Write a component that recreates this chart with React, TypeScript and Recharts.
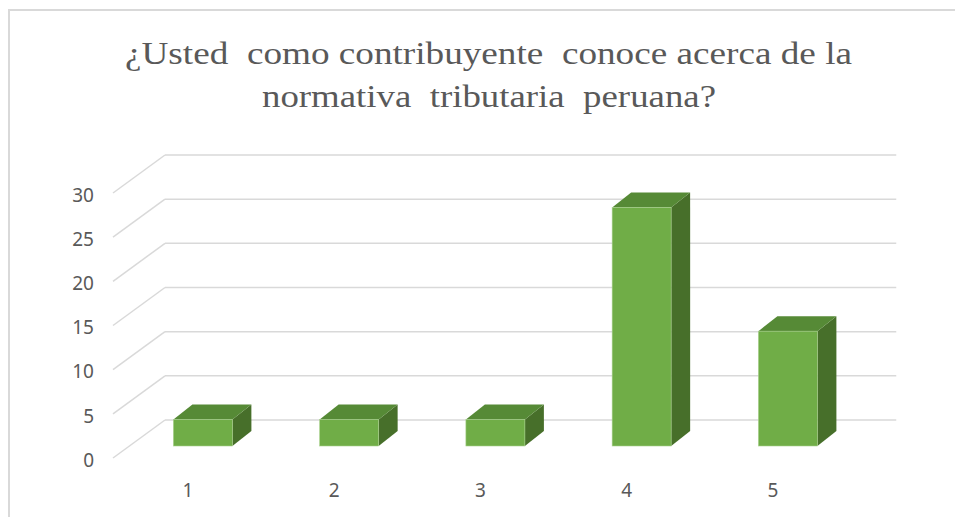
import React from 'react';
import { BarChart, Bar, XAxis, YAxis, CartesianGrid } from 'recharts';

const categories = ['1', '2', '3', '4', '5'];
const values = [3, 3, 3, 27, 13];
const yTicks = [0, 5, 10, 15, 20, 25, 30];
const titleLines = ['¿Usted  como contribuyente  conoce acerca de la', 'normativa  tributaria  peruana?'];

const data = categories.map((c, i) => ({ name: c, value: values[i] }));

const W = 955;
const H = 517;
const PLOT_LEFT = 129.4;
const PLOT_RIGHT = 94.35;
const PLOT_TOP = 181;
const PLOT_BOTTOM = 71;
const Y_AXIS_W = 30;
const X_AXIS_H = 30;
const DEPTH_X = 35.6; // back wall offset
const DEPTH_Y = 26;
const FRONT_X = 113; // front edge of floor/diagonals
const FRONT_DY = 12;
const BAR_DX = 19;
const BAR_DY = 15;

const GRID = '#d9d9d9';
const TEXT = '#595959';
const FRONT = '#70AD47';
const TOP = '#568A36';
const SIDE = '#476F2A';

const Box3D = (props: any) => {
  const { x, y, width, height } = props;
  if (width == null || height == null) return null;
  const x2 = x + width;
  const y2 = y + height;
  const top = `${x},${y} ${x + BAR_DX},${y - BAR_DY} ${x2 + BAR_DX},${y - BAR_DY} ${x2},${y}`;
  const side = `${x2},${y} ${x2 + BAR_DX},${y - BAR_DY} ${x2 + BAR_DX},${y2 - BAR_DY} ${x2},${y2}`;
  return (
    <g>
      <polygon points={side} fill={SIDE} />
      <polygon points={top} fill={TOP} />
      <rect x={x} y={y} width={width} height={height} fill={FRONT} stroke="#A9D18E" strokeWidth={0.6} />
    </g>
  );
};

const YTick = (props: any) => {
  const { y, payload } = props;
  const backX = PLOT_LEFT + DEPTH_X;
  return (
    <g>
      <line x1={FRONT_X} y1={y + FRONT_DY} x2={backX} y2={y - DEPTH_Y} stroke={GRID} strokeWidth={1.5} />
      <text x={94} y={y + 20.7} textAnchor="end" fill={TEXT} fontSize={19} fontFamily="'Noto Sans', sans-serif">
        {payload.value}
      </text>
    </g>
  );
};

const XTick = (props: any) => {
  const { x, payload } = props;
  return (
    <text x={x - 14.5} y={H - PLOT_BOTTOM + 51} textAnchor="middle" fill={TEXT} fontSize={19} fontFamily="'Noto Sans', sans-serif">
      {payload.value}
    </text>
  );
};

const gridYs = (args: any) => {
  const { yAxis, offset } = args || {};
  return yTicks.map((v) => {
    if (yAxis && typeof yAxis.scale === 'function') return yAxis.scale(v) - DEPTH_Y;
    const top = offset?.top ?? PLOT_TOP;
    const h = offset?.height ?? H - PLOT_TOP - PLOT_BOTTOM;
    return top + h * (1 - v / 30) - DEPTH_Y;
  });
};

export default function App() {
  const plotWidth = W - PLOT_LEFT - PLOT_RIGHT;
  const titleStyle: React.CSSProperties = { whiteSpace: 'pre' };
  return (
    <div style={{ position: 'absolute', left: 0, top: 0, width: W, height: H, background: '#fff', overflow: 'hidden' }}>
      <div
        style={{
          position: 'absolute',
          left: 8,
          top: 9,
          width: W + 20,
          height: H + 20,
          borderLeft: `2px solid ${GRID}`,
          borderTop: `2px solid ${GRID}`,
        }}
      />
      <svg width={W} height={130} style={{ position: 'absolute', left: 0, top: 0 }}>
        <text
          x={488.5}
          y={63.5}
          textAnchor="middle"
          fill={TEXT}
          fontSize={30.5}
          fontFamily="'Liberation Serif', 'Times New Roman', serif"
          textLength={727}
          lengthAdjust="spacingAndGlyphs"
          style={titleStyle}
        >
          {titleLines[0]}
        </text>
        <text
          x={489}
          y={106.5}
          textAnchor="middle"
          fill={TEXT}
          fontSize={30.5}
          fontFamily="'Liberation Serif', 'Times New Roman', serif"
          textLength={454}
          lengthAdjust="spacingAndGlyphs"
          style={titleStyle}
        >
          {titleLines[1]}
        </text>
      </svg>
      <div style={{ position: 'absolute', left: 0, top: 0 }}>
        <BarChart
          width={W}
          height={H}
          data={data}
          margin={{ top: PLOT_TOP, right: PLOT_RIGHT, bottom: PLOT_BOTTOM - X_AXIS_H, left: PLOT_LEFT - Y_AXIS_W }}
          barCategoryGap={0}
        >
          <CartesianGrid
            vertical={false}
            stroke={GRID}
            strokeWidth={1.5}
            x={PLOT_LEFT + DEPTH_X}
            width={plotWidth}
            horizontalCoordinatesGenerator={gridYs}
          />
          <XAxis dataKey="name" height={X_AXIS_H} axisLine={false} tickLine={false} interval={0} tick={<XTick />} />
          <YAxis
            width={Y_AXIS_W}
            domain={[0, 30]}
            ticks={yTicks}
            interval={0}
            axisLine={false}
            tickLine={false}
            tick={<YTick />}
          />
          <Bar dataKey="value" barSize={59} isAnimationActive={false} shape={<Box3D />} />
        </BarChart>
      </div>
    </div>
  );
}
